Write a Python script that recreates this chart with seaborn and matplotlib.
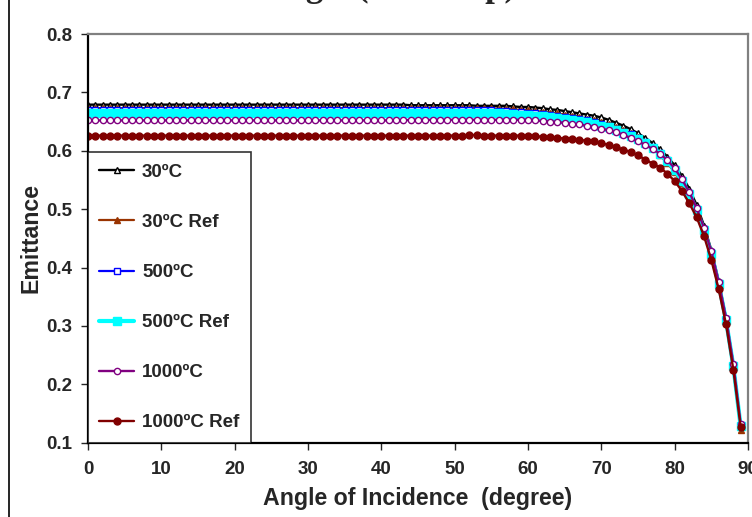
import matplotlib
matplotlib.use('Agg')
import matplotlib.pyplot as plt
import matplotlib.patches as mpatches
import seaborn as sns
import pandas as pd

# angle of incidence, degrees
angle = list(range(0, 90))

em_30 = [
    0.679, 0.679, 0.679, 0.679, 0.679, 0.679, 0.679, 0.679, 0.679, 0.679,
    0.679, 0.679, 0.679, 0.679, 0.679, 0.679, 0.679, 0.679, 0.679, 0.679,
    0.679, 0.679, 0.679, 0.679, 0.679, 0.679, 0.679, 0.679, 0.679, 0.679,
    0.679, 0.679, 0.679, 0.679, 0.679, 0.679, 0.679, 0.679, 0.679, 0.679,
    0.679, 0.679, 0.679, 0.679, 0.678, 0.678, 0.678, 0.678, 0.678, 0.678,
    0.678, 0.678, 0.678, 0.677, 0.677, 0.677, 0.677, 0.677, 0.676, 0.675,
    0.675, 0.674, 0.673, 0.671, 0.670, 0.668, 0.666, 0.664, 0.662, 0.660,
    0.657, 0.653, 0.648, 0.643, 0.637, 0.630, 0.622, 0.613, 0.603, 0.590,
    0.575, 0.557, 0.535, 0.507, 0.472, 0.430, 0.377, 0.314, 0.235, 0.130,
]
em_30_ref = [
    0.673, 0.673, 0.673, 0.673, 0.673, 0.673, 0.673, 0.673, 0.673, 0.673,
    0.673, 0.673, 0.673, 0.673, 0.673, 0.673, 0.673, 0.673, 0.673, 0.673,
    0.673, 0.673, 0.673, 0.673, 0.673, 0.673, 0.673, 0.673, 0.673, 0.673,
    0.673, 0.673, 0.673, 0.673, 0.673, 0.673, 0.673, 0.673, 0.673, 0.673,
    0.673, 0.673, 0.673, 0.673, 0.673, 0.673, 0.673, 0.673, 0.673, 0.673,
    0.673, 0.673, 0.673, 0.673, 0.673, 0.673, 0.672, 0.672, 0.671, 0.670,
    0.669, 0.668, 0.667, 0.665, 0.664, 0.662, 0.660, 0.658, 0.655, 0.652,
    0.649, 0.645, 0.641, 0.636, 0.630, 0.623, 0.614, 0.604, 0.592, 0.579,
    0.563, 0.544, 0.521, 0.493, 0.459, 0.418, 0.366, 0.305, 0.226, 0.122,
]
em_500 = [
    0.669, 0.669, 0.669, 0.669, 0.669, 0.669, 0.669, 0.669, 0.669, 0.669,
    0.669, 0.669, 0.669, 0.669, 0.669, 0.669, 0.669, 0.669, 0.669, 0.669,
    0.669, 0.669, 0.669, 0.669, 0.669, 0.669, 0.669, 0.669, 0.669, 0.669,
    0.669, 0.669, 0.669, 0.669, 0.669, 0.669, 0.669, 0.669, 0.669, 0.669,
    0.669, 0.669, 0.669, 0.669, 0.669, 0.669, 0.669, 0.669, 0.669, 0.669,
    0.669, 0.669, 0.669, 0.669, 0.669, 0.669, 0.668, 0.668, 0.667, 0.666,
    0.665, 0.664, 0.663, 0.661, 0.660, 0.658, 0.656, 0.654, 0.652, 0.649,
    0.646, 0.642, 0.638, 0.633, 0.628, 0.622, 0.615, 0.607, 0.597, 0.584,
    0.569, 0.550, 0.528, 0.500, 0.466, 0.426, 0.374, 0.312, 0.233, 0.130,
]
em_500_ref = [
    0.664, 0.664, 0.664, 0.664, 0.664, 0.664, 0.664, 0.664, 0.664, 0.664,
    0.664, 0.664, 0.664, 0.664, 0.664, 0.664, 0.664, 0.664, 0.664, 0.664,
    0.664, 0.664, 0.664, 0.664, 0.664, 0.664, 0.664, 0.664, 0.664, 0.664,
    0.664, 0.664, 0.664, 0.664, 0.664, 0.664, 0.664, 0.664, 0.664, 0.664,
    0.664, 0.664, 0.664, 0.664, 0.664, 0.664, 0.664, 0.664, 0.664, 0.664,
    0.664, 0.664, 0.664, 0.664, 0.664, 0.664, 0.664, 0.663, 0.663, 0.662,
    0.661, 0.660, 0.659, 0.658, 0.656, 0.655, 0.653, 0.651, 0.649, 0.646,
    0.643, 0.640, 0.636, 0.631, 0.626, 0.620, 0.613, 0.605, 0.595, 0.582,
    0.567, 0.548, 0.526, 0.498, 0.464, 0.424, 0.372, 0.310, 0.231, 0.128,
]
em_1000 = [
    0.652, 0.652, 0.652, 0.652, 0.652, 0.652, 0.652, 0.652, 0.652, 0.652,
    0.652, 0.652, 0.652, 0.652, 0.652, 0.652, 0.652, 0.652, 0.652, 0.652,
    0.652, 0.652, 0.652, 0.652, 0.652, 0.652, 0.652, 0.652, 0.652, 0.652,
    0.652, 0.652, 0.652, 0.652, 0.652, 0.652, 0.652, 0.652, 0.652, 0.652,
    0.652, 0.652, 0.652, 0.652, 0.653, 0.653, 0.653, 0.653, 0.653, 0.653,
    0.653, 0.653, 0.653, 0.653, 0.653, 0.653, 0.653, 0.653, 0.653, 0.653,
    0.653, 0.652, 0.651, 0.650, 0.649, 0.648, 0.646, 0.645, 0.643, 0.641,
    0.638, 0.635, 0.632, 0.627, 0.622, 0.616, 0.610, 0.603, 0.595, 0.584,
    0.570, 0.551, 0.529, 0.502, 0.468, 0.428, 0.376, 0.314, 0.235, 0.132,
]
em_1000_ref = [
    0.626, 0.626, 0.626, 0.626, 0.626, 0.626, 0.626, 0.626, 0.626, 0.626,
    0.626, 0.626, 0.626, 0.626, 0.626, 0.626, 0.626, 0.626, 0.626, 0.626,
    0.626, 0.626, 0.626, 0.626, 0.626, 0.626, 0.626, 0.626, 0.626, 0.626,
    0.626, 0.626, 0.626, 0.626, 0.626, 0.626, 0.626, 0.626, 0.626, 0.626,
    0.626, 0.626, 0.626, 0.626, 0.626, 0.626, 0.626, 0.626, 0.626, 0.626,
    0.626, 0.626, 0.627, 0.627, 0.626, 0.626, 0.626, 0.626, 0.626, 0.626,
    0.625, 0.625, 0.624, 0.623, 0.622, 0.621, 0.620, 0.619, 0.617, 0.616,
    0.613, 0.610, 0.606, 0.602, 0.598, 0.592, 0.585, 0.578, 0.571, 0.561,
    0.548, 0.531, 0.510, 0.486, 0.454, 0.413, 0.363, 0.303, 0.225, 0.127,
]

labels = ['30ºC', '30ºC Ref', '500ºC', '500ºC Ref', '1000ºC', '1000ºC Ref']
series = [em_30, em_30_ref, em_500, em_500_ref, em_1000, em_1000_ref]

sns.set_style("white")
plt.rcParams['font.family'] = ['Liberation Sans', 'DejaVu Sans']
plt.rcParams['font.weight'] = 'bold'

# line colour, marker, marker face, marker size, line width
styles = [
    ('black', '^', 'white', 4.5, 1.7),
    ('#993300', '^', '#993300', 4.5, 1.6),
    ('#0000FF', 's', 'white', 4.5, 1.6),
    ('#00FFFF', 's', '#00FFFF', 5.5, 3.0),
    ('#800080', 'o', 'white', 4.5, 1.7),
    ('#800000', 'o', '#800000', 5, 1.7),
]

fig = plt.figure(figsize=(7.52, 5.17), dpi=100)
ax = fig.add_axes([88 / 752, 1 - 442.7 / 517, 660 / 752, 408.7 / 517])

for vals, lab, (col, mk, face, ms, lw) in zip(series, labels, styles):
    df = pd.DataFrame({'angle': angle, 'emittance': vals})
    sns.lineplot(data=df, x='angle', y='emittance', ax=ax, color=col, marker=mk,
                 markerfacecolor=face, markeredgecolor=col, markersize=ms,
                 markeredgewidth=1, linewidth=lw, label=lab)

ax.set_xlim(0, 90)
ax.set_ylim(0.1, 0.8)
ax.set_xticks(range(0, 91, 10))
ax.set_yticks([0.1, 0.2, 0.3, 0.4, 0.5, 0.6, 0.7, 0.8])
ax.set_yticklabels(['0.1', '0.2', '0.3', '0.4', '0.5', '0.6', '0.7', '0.8'])
ax.tick_params(axis='both', direction='out', length=5, width=1, labelsize=13.5,
               left=True, bottom=True)
ax.tick_params(axis='x', pad=8)
ax.tick_params(axis='y', pad=6)
for t in ax.get_xticklabels() + ax.get_yticklabels():
    t.set_fontweight('bold')

for side in ['left', 'bottom']:
    ax.spines[side].set_color('black')
    ax.spines[side].set_linewidth(1.6)
for side in ['top', 'right']:
    ax.spines[side].set_color('#808080')
    ax.spines[side].set_linewidth(1.6)

ax.set_xlabel('Angle of Incidence  (degree)', fontsize=16.7, fontweight='bold', labelpad=7)
ax.set_ylabel('Emittance', fontsize=16.7, fontweight='bold', labelpad=3)

leg = ax.legend(loc='lower left', bbox_to_anchor=(0, 0), borderaxespad=0,
                frameon=True, fancybox=False, edgecolor='black',
                labelspacing=1.76, handlelength=1.87, handletextpad=0.41,
                borderpad=0.6, prop={'weight': 'bold', 'size': 13.5})
leg.get_frame().set_linewidth(1.2)

# chart area border and clipped chart title of the original
fig.patches.append(mpatches.Rectangle((9.3 / 752, -0.2), 1.2, 1.2 + 1 - 9.3 / 517,
                                      transform=fig.transFigure, fill=False,
                                      edgecolor='black', linewidth=1.2))
fig.text(0.385, 1.0 + 4.5 / 517, 'Emittance vs Angle (All Temp)', ha='center', va='baseline',
         fontsize=25, fontweight='bold', family='Liberation Serif')

fig.savefig('out.png', dpi=100)
